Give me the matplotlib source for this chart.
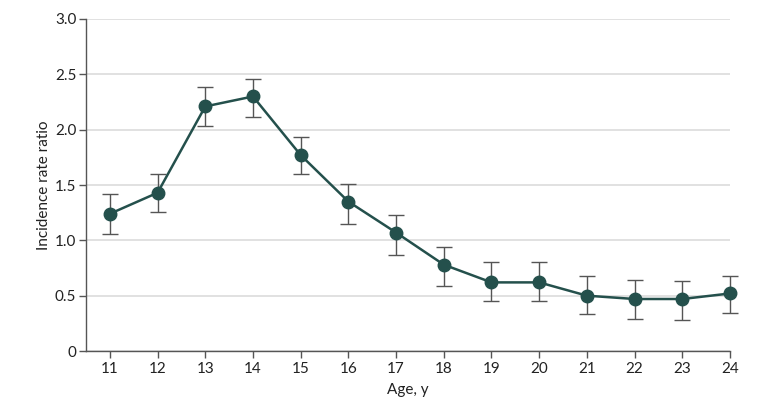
import matplotlib
matplotlib.use("Agg")
import matplotlib.pyplot as plt
import numpy as np

# Incidence rate ratio by age, with 95% CI
ages = [11, 12, 13, 14, 15, 16, 17, 18, 19, 20, 21, 22, 23, 24]
irr = [1.24, 1.43, 2.21, 2.30, 1.77, 1.35, 1.07, 0.78, 0.62, 0.62, 0.50, 0.47, 0.47, 0.52]
ci_low = [1.06, 1.26, 2.03, 2.11, 1.60, 1.15, 0.87, 0.59, 0.45, 0.45, 0.33, 0.29, 0.28, 0.34]
ci_high = [1.42, 1.60, 2.39, 2.46, 1.93, 1.51, 1.23, 0.94, 0.80, 0.80, 0.68, 0.64, 0.63, 0.68]

plt.rcParams['font.family'] = ['Lato', 'DejaVu Sans']

line_color = '#24504c'
err_color = '#555555'

fig = plt.figure(figsize=(7.8, 4.05), dpi=100)
ax = fig.add_axes([0.1103, 0.1333, 0.8256, 0.8198])

irr_arr = np.array(irr)
yerr = [irr_arr - np.array(ci_low), np.array(ci_high) - irr_arr]
eb = ax.errorbar(ages, irr, yerr=yerr, fmt='none', ecolor=err_color, elinewidth=1.0,
                 capsize=5.5, capthick=1.0, zorder=2)
for art in eb.lines[1] + eb.lines[2]:
    art.set_clip_on(False)
ax.plot(ages, irr, color=line_color, lw=1.8, marker='o', markersize=9,
        markerfacecolor=line_color, markeredgecolor=line_color, zorder=3,
        clip_on=False)

ax.set_xlim(10.5, 24)
ax.set_ylim(0, 3.0)
ax.set_xticks(ages)
ax.set_yticks([0, 0.5, 1.0, 1.5, 2.0, 2.5, 3.0])
ax.set_yticklabels(['0', '0.5', '1.0', '1.5', '2.0', '2.5', '3.0'])

ax.grid(axis='y', color='#dcdcdc', lw=1.2, zorder=0)
ax.set_axisbelow(True)

for side in ['top', 'right']:
    ax.spines[side].set_visible(False)
for side in ['left', 'bottom']:
    ax.spines[side].set_color('#555555')
    ax.spines[side].set_linewidth(1.0)

ax.tick_params(axis='both', colors='#555555', labelcolor='#222222', labelsize=11,
               length=5, width=1.0)
ax.tick_params(axis='x', pad=3)
ax.tick_params(axis='y', pad=2)

ax.set_xlabel('Age, y', fontsize=11, color='#222222', labelpad=5)
ax.set_ylabel('Incidence rate ratio', fontsize=11, color='#222222', labelpad=3)

fig.savefig('out.png', dpi=100)
